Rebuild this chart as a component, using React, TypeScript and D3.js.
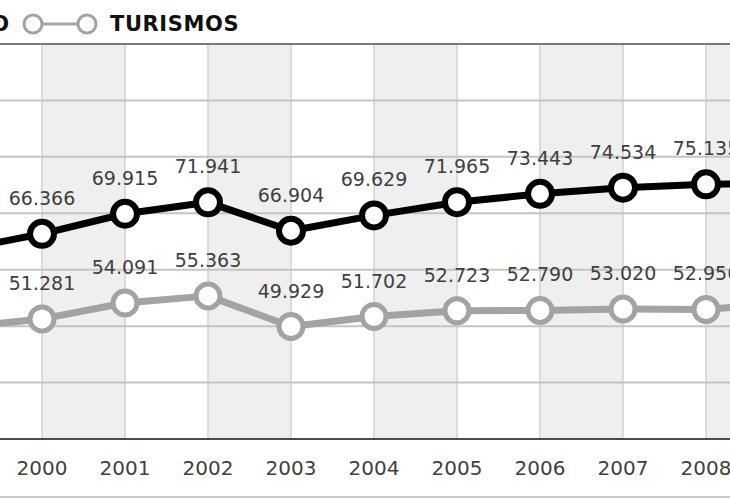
import React from "react";
import * as d3 from "d3";

const years = [1999, 2000, 2001, 2002, 2003, 2004, 2005, 2006, 2007, 2008, 2009];
const totalValues = [63500, 66366, 69915, 71941, 66904, 69629, 71965, 73443, 74534, 75135, 75300];
const turismosValues = [49800, 51281, 54091, 55363, 49929, 51702, 52723, 52790, 53020, 52956, 54200];
const yTicks = [30000, 40000, 50000, 60000, 70000, 80000, 90000, 100000];

const W = 730;
const H = 500;
const top = 44;
const bottom = 439;

const esFormat = d3.formatLocale({
  decimal: ",",
  thousands: ".",
  grouping: [3],
  currency: ["", " €"],
}).format(",d");

const FONT = "'DejaVu Sans', sans-serif";

export default function App() {
  const x = d3
    .scaleLinear()
    .domain([2000, 2008])
    .range([42, 706]);
  const y = d3.scaleLinear().domain([30000, 100000]).range([bottom, top]);

  const line = d3
    .line<number>()
    .x((_, i) => x(years[i]))
    .y((d) => y(d));

  // shaded bands between even year and the next one
  const bands = years.filter((yr, i) => (yr - 2000) % 2 === 0 && i < years.length - 1);

  // labels only where they land inside the picture
  const shown = (yr: number) => x(yr) > 0 && x(yr) < W;

  const series = [
    { name: "TURISMOS", values: turismosValues, color: "#a3a3a3", lineW: 7, ringW: 5 },
    { name: "TOTAL", values: totalValues, color: "#000000", lineW: 7, ringW: 6 },
  ];

  return (
    <svg
      width={W}
      height={H}
      style={{ position: "absolute", left: 0, top: 0, background: "#fff" }}
      fontFamily={FONT}
    >
      <rect width={W} height={H} fill="#ffffff" />

      {/* bands */}
      {bands.map((yr) => (
        <rect
          key={yr}
          x={x(yr)}
          y={top}
          width={x(yr + 1) - x(yr)}
          height={bottom - top}
          fill="#efefef"
        />
      ))}

      {/* vertical lines */}
      {years.map((yr) => (
        <line
          key={yr}
          x1={x(yr)}
          x2={x(yr)}
          y1={top}
          y2={bottom}
          stroke="#d2d2d2"
          strokeWidth={1.5}
        />
      ))}

      {/* horizontal grid */}
      {yTicks.map((t) => (
        <line
          key={t}
          x1={0}
          x2={W}
          y1={y(t)}
          y2={y(t)}
          stroke={t === 100000 ? "#7a7a7a" : t === 30000 ? "#4a4a4a" : "#c4c4c4"}
          strokeWidth={2}
        />
      ))}

      {/* bottom frame line */}
      <line x1={0} x2={W} y1={497} y2={497} stroke="#c8c8c8" strokeWidth={2} />

      {/* series */}
      {series.map((s) => (
        <g key={s.name}>
          <path d={line(s.values) ?? ""} fill="none" stroke={s.color} strokeWidth={s.lineW} strokeLinejoin="round" />
          {s.values.map((v, i) => (
            <circle
              key={i}
              cx={x(years[i])}
              cy={y(v)}
              r={12}
              fill="#ffffff"
              stroke={s.color}
              strokeWidth={s.ringW}
            />
          ))}
          {s.values.map((v, i) =>
            shown(years[i]) ? (
              <text
                key={"l" + i}
                x={x(years[i])}
                y={y(v) - 36}
                textAnchor="middle"
                dominantBaseline="central"
                fontSize={19}
                fill="#404040"
              >
                {esFormat(v)}
              </text>
            ) : null
          )}
        </g>
      ))}

      {/* year labels */}
      {years.filter(shown).map((yr) => (
        <text
          key={yr}
          x={x(yr)}
          y={468}
          textAnchor="middle"
          dominantBaseline="central"
          fontSize={20}
          fill="#404040"
        >
          {yr}
        </text>
      ))}

      {/* legend */}
      <text x={9} y={24} textAnchor="end" dominantBaseline="central" fontSize={21} fontWeight="bold" fill="#111">
        TOTAL MATRICULADO
      </text>
      <line x1={33} x2={87} y1={24} y2={24} stroke="#a3a3a3" strokeWidth={3} />
      <circle cx={33} cy={24} r={9} fill="#fff" stroke="#a3a3a3" strokeWidth={3} />
      <circle cx={87} cy={24} r={9} fill="#fff" stroke="#a3a3a3" strokeWidth={3} />
      <text x={110} y={24} dominantBaseline="central" fontSize={21} fontWeight="bold" fill="#111" letterSpacing={0.6}>
        TURISMOS
      </text>
    </svg>
  );
}
